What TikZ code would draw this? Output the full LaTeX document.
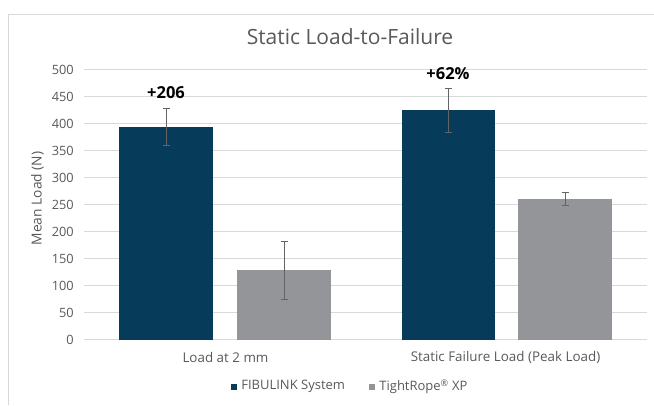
\documentclass[tikz,border=0pt]{standalone}
\usepackage{fontspec}
\setmainfont{Open Sans}
\usetikzlibrary{arrows.meta,positioning}
\definecolor{fibnavy}{HTML}{073B5A}
\definecolor{ropegray}{HTML}{939598}
\definecolor{txtgray}{HTML}{595959}
\definecolor{gridgray}{HTML}{D9D9D9}
\definecolor{errgray}{HTML}{646464}

\begin{document}
\begin{tikzpicture}[x=1pt,y=-1pt,
	tick label/.style={anchor=east,text=txtgray,font=\fontsize{12.8}{14}\selectfont,inner sep=0pt},
	cat label/.style={text=txtgray,font=\fontsize{13.4}{15}\selectfont,inner sep=0pt},
	gain label/.style={font=\bfseries\fontsize{16.5}{18}\selectfont,inner sep=0pt},
	errbar/.style={draw=errgray,line width=1pt,{Bar[width=7pt]}-{Bar[width=7pt]}},
	key box/.style={minimum size=6pt,inner sep=0pt}]

	\useasboundingbox (0,0) rectangle (654,405);
	\draw[gridgray,line width=1pt] (8.5,405) -- (8.5,14.5) -- (654,14.5);

	\node[text=txtgray,font=\fontsize{21}{24}\selectfont] (title) at (350,36.5) {Static Load-to-Failure};
	\node[cat label,rotate=90,font=\fontsize{13.8}{15}\selectfont] (ytitle) at (37.5,198.5) {Mean Load (N)};

	% axis is 0.54px per N, zero line at 339.5
	\begin{scope}[shift={(0,339.5)},yscale=-0.54]
		\foreach \v in {0,50,...,500} {
			\draw[gridgray,line width=1.2pt] (84,\v) -- (647,\v);
			\node[tick label] (tick\v) at (74,\v) {\v};
		}
		\fill[fibnavy]  (119,0) rectangle (213,393.5);
		\fill[ropegray] (237,0) rectangle (331,128.5);
		\fill[fibnavy]  (401.5,0) rectangle (495,425);
		\fill[ropegray] (518,0) rectangle (612,260);

		\coordinate (lo1) at (166,358);   \coordinate (hi1) at (166,429);
		\coordinate (lo2) at (284,73);    \coordinate (hi2) at (284,182);
		\coordinate (lo3) at (448,382);   \coordinate (hi3) at (448,466);
		\coordinate (lo4) at (565,247);   \coordinate (hi4) at (565,273);
		\foreach \i in {1,...,4}
			\draw[errbar] (lo\i) -- (hi\i);
	\end{scope}

	\node[gain label,above=8.5pt of hi1] (gain1) {+206};
	\node[gain label,above=8pt of hi3] (gain3) {+62\%};

	\node[cat label] (cat1) at (225.5,357) {Load at 2 mm};
	\node[cat label] (cat2) at (505.5,357) {Static Failure Load (Peak Load)};

	\node[key box,fill=fibnavy] (key1) at (234,386.5) {};
	\node[cat label,right=4pt of key1,font=\fontsize{13}{15}\selectfont] (fib) {FIBULINK System};
	\node[key box,fill=ropegray] (key2) at (372,386.5) {};
	\node[cat label,right=4pt of key2,font=\fontsize{13}{15}\selectfont] (rope) {TightRope\textsuperscript{®} XP};
\end{tikzpicture}
\end{document}
